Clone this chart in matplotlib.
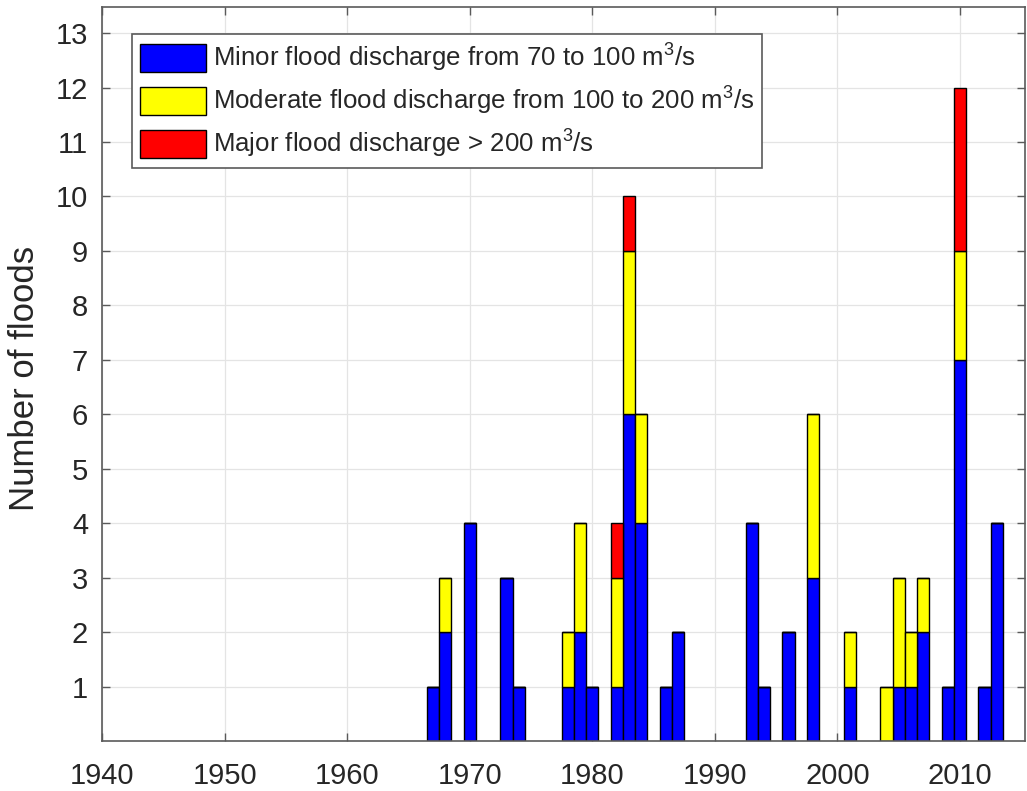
import matplotlib
matplotlib.use("Agg")
import matplotlib.pyplot as plt
import numpy as np

# ---- data ----
years    = [1967, 1968, 1970, 1973, 1974, 1978, 1979, 1980, 1982, 1983, 1984,
            1986, 1987, 1993, 1994, 1996, 1998, 2001, 2004, 2005, 2006, 2007,
            2009, 2010, 2012, 2013]
minor    = [1, 2, 4, 3, 1, 1, 2, 1, 1, 6, 4,
            1, 2, 4, 1, 2, 3, 1, 0, 1, 1, 2,
            1, 7, 1, 4]
moderate = [0, 1, 0, 0, 0, 1, 2, 0, 2, 3, 2,
            0, 0, 0, 0, 0, 3, 1, 1, 2, 1, 1,
            0, 2, 0, 0]
major    = [0, 0, 0, 0, 0, 0, 0, 0, 1, 1, 0,
            0, 0, 0, 0, 0, 0, 0, 0, 0, 0, 0,
            0, 3, 0, 0]
labels = ["Minor flood discharge from 70 to 100 $\\mathregular{m^3}$/s",
          "Moderate flood discharge from 100 to 200 $\\mathregular{m^3}$/s",
          "Major flood discharge > 200 $\\mathregular{m^3}$/s"]
colors = ["#0000ff", "#ffff00", "#ff0000"]
xticks = [1940, 1950, 1960, 1970, 1980, 1990, 2000, 2010]
yticks = list(range(1, 14))
ylabel = "Number of floods"

plt.rcParams['font.family'] = ['Liberation Sans', 'DejaVu Sans']
plt.rcParams['mathtext.fontset'] = 'custom'
plt.rcParams['mathtext.rm'] = 'Liberation Sans'

W, H = 1027, 791
fig = plt.figure(figsize=(W / 100, H / 100), dpi=100)
ax = fig.add_axes([102 / W, (H - 741) / H, (1025 - 102) / W, (741 - 7) / H])

axcol = "#5a5a5a"
txtcol = "#262626"

ax.set_axisbelow(True)
ax.grid(True, color="#e4e4e4", linewidth=0.9)

mn = np.array(minor)
md = np.array(moderate)
mj = np.array(major)
ax.bar(years, mn, width=1.0, color=colors[0], edgecolor="black", linewidth=1.0, label=labels[0])
ax.bar(years, md, width=1.0, bottom=mn, color=colors[1], edgecolor="black", linewidth=1.0, label=labels[1])
ax.bar(years, mj, width=1.0, bottom=mn + md, color=colors[2], edgecolor="black", linewidth=1.0, label=labels[2])

ax.set_xlim(1940, 2015.3)
ax.set_ylim(0, 13.48)
ax.set_xticks(xticks)
ax.set_yticks(yticks)
ax.tick_params(axis='both', direction='in', length=6, width=1, colors=axcol,
               labelcolor=txtcol, labelsize=21, top=True, right=True)
ax.tick_params(axis='y', pad=10)
ax.tick_params(axis='x', pad=15)
for s in ax.spines.values():
    s.set_color(axcol)
    s.set_linewidth(1.2)

ax.set_ylabel(ylabel, fontsize=25, color=txtcol, va='center')
ax.yaxis.set_label_coords((25 - 102) / 923, (741 - 378) / 734)

leg = ax.legend(loc='upper left', bbox_to_anchor=(132 / W, 1 - 34 / H),
                bbox_transform=fig.transFigure, borderaxespad=0,
                fontsize=18.6, handlelength=2.55, handleheight=1.25,
                labelspacing=0.42, handletextpad=0.3, borderpad=0.3,
                fancybox=False, framealpha=1, edgecolor=axcol)
leg.get_frame().set_linewidth(1.2)
for t in leg.get_texts():
    t.set_color(txtcol)

fig.savefig("out.png", dpi=100)
